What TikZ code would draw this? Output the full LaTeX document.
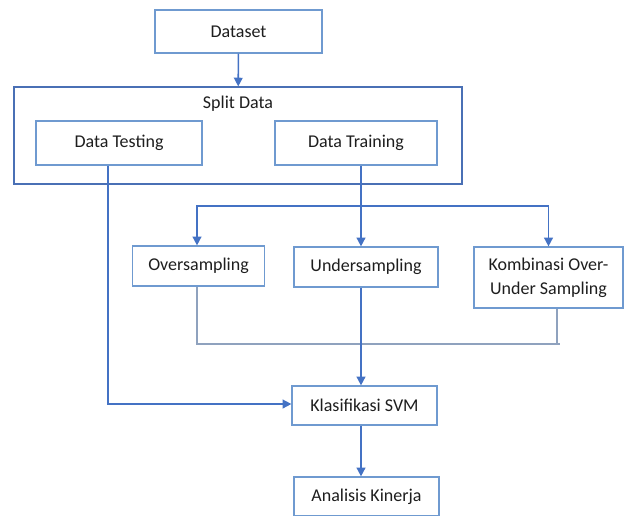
\documentclass[tikz,border=0pt]{standalone}
\usepackage{fontspec}
\setmainfont{Carlito}
\usepackage{xcolor}
\definecolor{BoxLine}{HTML}{6F9AD0}
\definecolor{FrameLine}{HTML}{4A70B5}
\definecolor{FlowBlue}{HTML}{4472C4}
\definecolor{FeedGray}{HTML}{8FA2BE}
\definecolor{TextDark}{HTML}{1E1E1E}
\usepackage{tikz}
\usetikzlibrary{positioning,arrows.meta}

\begin{document}
\begin{tikzpicture}[x=0.75pt,y=-0.75pt,
    stepbox/.style={draw=BoxLine, line width=0.9pt, fill=white, inner sep=0pt,
      font=\fontsize{13.5}{18}\selectfont, text=TextDark, align=center},
    flow/.style={draw=FlowBlue, line width=1.2pt, -{Triangle[width=6.5pt,length=6.5pt]}},
    link/.style={draw=FlowBlue, line width=1.2pt},
    feed/.style={draw=FeedGray, line width=0.8pt}]
      \useasboundingbox (0,0) rectangle (624,515);
      \begin{scope}
      \clip (0,0) rectangle (624,515);
      % boxes
      \node[stepbox, minimum width=167*0.75pt, minimum height=43*0.75pt] (dataset) at (238.5,31.5) {Dataset};
      \node[stepbox, draw=FrameLine, minimum width=448*0.75pt, minimum height=97*0.75pt] (split) at (238,135.5) {};
      \node[font=\fontsize{13.5}{16}\selectfont, text=TextDark] (splitlbl) at (238,104) {Split Data};
      \node[stepbox, minimum width=166*0.75pt, minimum height=44*0.75pt] (test) at (119,143) {Data Testing};
      \node[stepbox, minimum width=162*0.75pt, minimum height=44*0.75pt] (train) at (356,143) {Data Training};
      \node[stepbox, minimum width=132*0.75pt, minimum height=40*0.75pt] (over) at (198.5,266) {Oversampling};
      \node[stepbox, minimum width=144*0.75pt, minimum height=40*0.75pt] (under) at (366,267) {Undersampling};
      \node[stepbox, minimum width=149*0.75pt, minimum height=61*0.75pt] (komb) at (548.5,277.5) {Kombinasi Over-\\Under Sampling};
      \node[stepbox, minimum width=145*0.75pt, minimum height=39*0.75pt] (svm) at (364.5,405.5) {Klasifikasi SVM};
      \node[stepbox, minimum width=145*0.75pt, minimum height=39*0.75pt] (ana) at (366.5,496.5) {Analisis Kinerja};
      % junctions
      \coordinate (br) at (361,206);
      \coordinate (jl) at (197,344);
      \coordinate (jr) at (560,344);
      \coordinate (jk) at (557,344);
      \coordinate (tl) at (108,404);
      % connectors
      \draw[flow] (dataset) -- (split);
      \draw[link] (train.south -| br) -- (br);
      \draw[flow] (br) -| (jl |- over.north);
      \draw[flow] (br) -| (komb.north);
      \draw[flow] (br) -- (under.north -| br);
      \draw[feed] (jl |- over.south) -- (jl) -- (jr);
      \draw[feed] (komb.south -| jk) -- (jk);
      \draw[flow] (under.south -| br) -- (svm.north -| br);
      \draw[flow] (test.south -| tl) -- (tl) -- (svm.west |- tl);
      \draw[flow] (svm.south -| br) -- (ana.north -| br);
      \end{scope}
    \end{tikzpicture}
\end{document}
